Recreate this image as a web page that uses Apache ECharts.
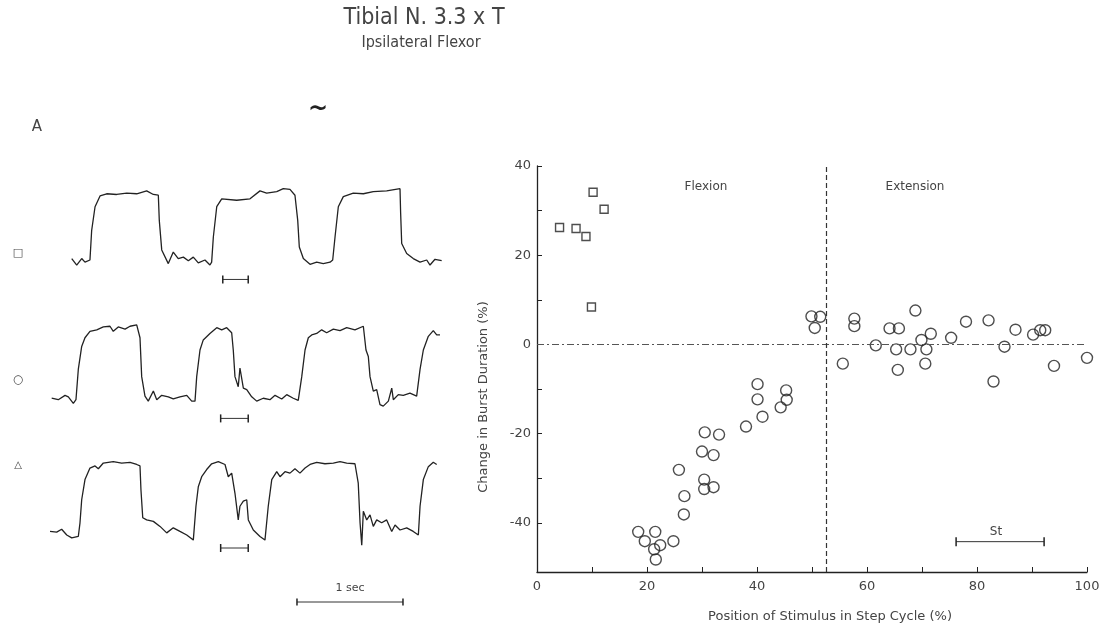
<!DOCTYPE html>
<html>
<head>
<meta charset="utf-8">
<script src="https://cdn.jsdelivr.net/npm/echarts@6/dist/echarts.min.js"></script>
<style>
  html, body { margin: 0; padding: 0; background: #fff; }
  #chart { width: 1108px; height: 634px; }
</style>
</head>
<body>
<div id="chart"></div>
<script>
// --- right panel: stimulus position (% step cycle) vs change in burst duration (%)
const squarePts = [
  [10.2, 34.1], [12.2, 30.3], [4.1, 26.2], [7.1, 26.0], [8.9, 24.2], [9.9, 8.4]
];
const circlePts = [
  [18.4, -42.0], [19.6, -44.1], [21.3, -45.9], [21.5, -42.0], [21.6, -48.2], [22.4, -45.0],
  [24.8, -44.1], [25.8, -28.1], [26.7, -38.1], [26.8, -34.0], [30.0, -24.0], [30.4, -30.3],
  [30.4, -32.4], [30.5, -19.7], [32.1, -24.8], [32.1, -32.0], [33.1, -20.2], [38.0, -18.4],
  [40.1, -8.9], [40.1, -12.3], [41.0, -16.2], [44.3, -14.1], [45.3, -10.3], [45.4, -12.4],
  [49.9, 6.3], [51.5, 6.2], [50.5, 3.7],
  [55.6, -4.3], [57.7, 5.8], [57.7, 4.1], [61.6, -0.2], [64.1, 3.6], [65.8, 3.6], [65.3, -1.1],
  [65.6, -5.7], [68.8, 7.6], [67.9, -1.1], [69.9, 1.0], [71.6, 2.4], [70.8, -1.1], [70.6, -4.3],
  [75.3, 1.5], [78.0, 5.1], [82.1, 5.4], [85.0, -0.5], [83.0, -8.3], [87.0, 3.3], [90.2, 2.2],
  [91.5, 3.2], [92.4, 3.2], [94.0, -4.8], [100.0, -3.0]
];
const phaseBorder = 52.6;           // flexion | extension
const stBar = [[76.2, -44.2], [92.2, -44.2]];
const xLabelValues = [0, 20, 40, 60, 80, 100];
const xTickValues = [0, 10, 20, 30, 40, 50, 60, 70, 80, 90, 100];
const yLabelValues = [-40, -20, 0, 20, 40];
const yTickValues = [-40, -30, -20, -10, 0, 10, 20, 30, 40];

// --- left panel: flexor EMG traces, [time (s), level], 0 = baseline, 1 = burst plateau
const traceSquare = [
  [0.205,0.05],[0.252,-0.04],[0.299,0.05],[0.330,0.00],[0.377,0.03],[0.393,0.44],[0.425,0.77],
  [0.472,0.92],[0.535,0.95],[0.629,0.94],[0.724,0.96],[0.818,0.95],[0.912,0.99],[0.975,0.94],
  [1.022,0.93],[1.031,0.58],[1.054,0.17],[1.116,-0.02],[1.163,0.14],[1.210,0.05],[1.258,0.07],
  [1.305,0.02],[1.352,0.07],[1.399,-0.01],[1.462,0.03],[1.509,-0.04],[1.525,0.00],[1.541,0.35],
  [1.573,0.77],[1.620,0.88],[1.761,0.86],[1.887,0.88],[1.981,0.99],[2.044,0.96],[2.139,0.98],
  [2.201,1.02],[2.264,1.01],[2.311,0.93],[2.327,0.91],[2.337,0.58],[2.352,0.21],[2.390,0.05],
  [2.453,-0.03],[2.516,0.00],[2.578,-0.02],[2.642,0.00],[2.667,0.03],[2.689,0.35],[2.720,0.77],
  [2.767,0.91],[2.861,0.96],[2.956,0.95],[3.050,0.98],[3.176,0.99],[3.302,1.02],[3.308,0.68],
  [3.318,0.26],[3.365,0.12],[3.427,0.05],[3.491,0.00],[3.554,0.03],[3.585,-0.04],[3.632,0.04],
  [3.695,0.02]
];
const traceCircle = [
  [0.016,0.02],[0.078,0.00],[0.142,0.06],[0.173,0.04],[0.220,-0.05],[0.245,0.00],[0.267,0.42],
  [0.299,0.74],[0.330,0.86],[0.377,0.95],[0.441,0.97],[0.503,1.01],[0.566,1.02],[0.597,0.95],
  [0.644,1.01],[0.708,0.98],[0.755,1.02],[0.818,1.04],[0.849,0.86],[0.865,0.32],[0.896,0.05],
  [0.927,-0.02],[0.975,0.12],[1.007,0.00],[1.054,0.06],[1.116,0.04],[1.163,0.01],[1.226,0.04],
  [1.290,0.06],[1.337,-0.02],[1.368,-0.02],[1.384,0.32],[1.415,0.69],[1.446,0.83],[1.509,0.92],
  [1.573,1.00],[1.620,0.97],[1.667,1.00],[1.714,0.93],[1.729,0.69],[1.745,0.32],[1.776,0.18],
  [1.792,0.44],[1.824,0.16],[1.856,0.14],[1.903,0.04],[1.950,-0.02],[2.012,0.02],[2.075,0.00],
  [2.123,0.06],[2.186,0.01],[2.233,0.07],[2.295,0.02],[2.342,-0.01],[2.375,0.32],[2.406,0.69],
  [2.437,0.86],[2.469,0.90],[2.516,0.92],[2.563,0.97],[2.610,0.93],[2.673,0.98],[2.736,0.96],
  [2.799,1.00],[2.877,0.97],[2.956,1.02],[2.972,1.00],[2.981,0.69],[3.003,0.60],[3.019,0.32],
  [3.050,0.12],[3.082,0.14],[3.113,-0.07],[3.144,-0.09],[3.192,-0.02],[3.224,0.16],[3.239,0.00],
  [3.286,0.07],[3.333,0.06],[3.396,0.09],[3.459,0.05],[3.491,0.42],[3.522,0.69],[3.569,0.88],
  [3.616,0.96],[3.648,0.90],[3.679,0.90]
];
const traceTriangle = [
  [0.000,0.06],[0.063,0.05],[0.110,0.09],[0.158,0.01],[0.205,-0.03],[0.267,-0.01],[0.283,0.18],
  [0.299,0.50],[0.330,0.78],[0.377,0.94],[0.425,0.97],[0.456,0.93],[0.503,1.01],[0.597,1.03],
  [0.676,1.01],[0.755,1.02],[0.818,0.99],[0.849,0.97],[0.858,0.64],[0.875,0.25],[0.912,0.22],
  [0.975,0.20],[1.038,0.13],[1.101,0.04],[1.163,0.11],[1.226,0.06],[1.290,0.01],[1.352,-0.06],
  [1.377,0.41],[1.399,0.68],[1.431,0.82],[1.478,0.92],[1.525,1.00],[1.588,1.03],[1.651,0.99],
  [1.682,0.82],[1.714,0.87],[1.745,0.59],[1.776,0.22],[1.792,0.41],[1.824,0.48],[1.856,0.50],
  [1.871,0.22],[1.918,0.08],[1.981,-0.01],[2.028,-0.06],[2.059,0.41],[2.092,0.78],[2.139,0.89],
  [2.170,0.82],[2.217,0.89],[2.264,0.87],[2.311,0.93],[2.358,0.87],[2.406,0.94],[2.453,0.99],
  [2.516,1.02],[2.594,1.00],[2.673,1.01],[2.736,1.03],[2.799,1.01],[2.877,1.00],[2.908,0.73],
  [2.925,0.18],[2.941,-0.13],[2.956,0.34],[2.988,0.22],[3.019,0.29],[3.050,0.13],[3.082,0.22],
  [3.129,0.18],[3.176,0.22],[3.224,0.06],[3.255,0.15],[3.302,0.08],[3.365,0.11],[3.427,0.06],
  [3.475,0.01],[3.491,0.41],[3.522,0.78],[3.569,0.96],[3.616,1.02],[3.648,0.99]
];
const traceOffsets = [4.72, 2.81, 0.92];
const stimMarks = [[1.63, 1.87], [1.61, 1.87], [1.61, 1.87]];
const stimLevels = [-0.24, -0.26, -0.17];
const secBar = [2.33, 3.33];

const ink = '#222';
const textInk = '#444';
const famNarrow = "'Liberation Sans Narrow', 'DejaVu Sans Condensed', 'Liberation Sans', sans-serif";
const fam = "'DejaVu Sans', 'Liberation Sans', sans-serif";

const chart = echarts.init(document.getElementById('chart'));

function txt(text, x, y, size, font, extra) {
  return Object.assign({
    type: 'text', x: x, y: y, silent: true,
    style: {
      text: text, fill: textInk, font: size + 'px ' + (font || fam),
      textAlign: 'center', align: 'center',
      textVerticalAlign: 'middle', verticalAlign: 'middle'
    }
  }, extra || {});
}

function barSeries(pts, gridAxis, tick) {
  return {
    type: 'line', xAxisIndex: gridAxis, yAxisIndex: gridAxis, data: pts,
    symbol: 'rect', symbolSize: [1.5, tick], silent: true,
    itemStyle: { color: ink }, lineStyle: { color: '#333', width: 1 }, z: 3
  };
}

const traces = [traceSquare, traceCircle, traceTriangle];
const series = [];
traces.forEach((tr, i) => {
  series.push({
    type: 'line', xAxisIndex: 0, yAxisIndex: 0,
    data: tr.map(p => [p[0], p[1] + traceOffsets[i]]),
    symbol: 'none', silent: true,
    lineStyle: { color: ink, width: 1.3 }
  });
  series.push(barSeries(stimMarks[i].map(t => [t, stimLevels[i] + traceOffsets[i]]), 0, 8));
});
series.push(barSeries(secBar.map(t => [t, 0]), 0, 7));

series.push({
  type: 'scatter', xAxisIndex: 1, yAxisIndex: 1, data: squarePts,
  symbol: 'rect', symbolSize: 8,
  itemStyle: { color: 'transparent', borderColor: ink, borderWidth: 1.4 }
});
series.push({
  type: 'scatter', xAxisIndex: 1, yAxisIndex: 1, data: circlePts,
  symbol: 'circle', symbolSize: 11,
  itemStyle: { color: 'transparent', borderColor: ink, borderWidth: 1.4 },
  markLine: {
    silent: true, symbol: 'none', label: { show: false },
    data: [
      { yAxis: 0, lineStyle: { type: [7, 3, 2, 3], color: '#555', width: 1 } },
      { xAxis: phaseBorder, lineStyle: { type: [5, 3], color: '#333', width: 1.2 } }
    ]
  }
});
series.push(barSeries(stBar, 1, 9));

const option = {
  backgroundColor: '#fff',
  animation: false,
  textStyle: { fontFamily: fam },
  grid: [
    { left: 50, top: 170, width: 424, height: 453.6 },
    { left: 537, top: 166, right: 21, bottom: 62 }
  ],
  xAxis: [
    { gridIndex: 0, type: 'value', min: 0, max: 4, show: false },
    {
      gridIndex: 1, type: 'value', min: 0, max: 100,
      name: 'Position of Stimulus in Step Cycle (%)',
      nameLocation: 'middle', nameGap: 38,
      nameTextStyle: { color: textInk, fontSize: 13, fontFamily: fam, padding: [0, 0, 0, 36] },
      axisLine: { onZero: false, lineStyle: { color: ink, width: 1.3 } },
      axisTick: { inside: true, length: 5, customValues: xTickValues, lineStyle: { color: ink } },
      axisLabel: { customValues: xLabelValues, color: textInk, fontSize: 13, margin: 8, fontFamily: fam },
      splitLine: { show: false }
    }
  ],
  yAxis: [
    { gridIndex: 0, type: 'value', min: -0.3, max: 6, show: false },
    {
      gridIndex: 1, type: 'value', min: -51, max: 40,
      axisLine: { show: true, onZero: false, lineStyle: { color: ink, width: 1.3 } },
      axisTick: { show: true, inside: true, length: 5, customValues: yTickValues, lineStyle: { color: ink } },
      axisLabel: { customValues: yLabelValues, color: textInk, fontSize: 13, margin: 6, fontFamily: fam },
      splitLine: { show: false }
    }
  ],
  graphic: [
    txt('Tibial N. 3.3 x T', 424, 18, 23, famNarrow),
    txt('Ipsilateral Flexor', 421, 43, 16, famNarrow),
    txt('A', 37, 127, 15),
    txt('~', 318, 110, 24, fam, { style: { text: '~', fill: ink, font: 'bold 24px ' + fam, align: 'center', verticalAlign: 'middle', textAlign: 'center', textVerticalAlign: 'middle' } }),
    txt('\u25A1', 18, 253, 11),
    txt('\u25CB', 18, 380, 12),
    txt('\u25B3', 18, 465, 10),
    txt('1 sec', 350, 588, 11),
    txt('Flexion', 706, 187, 12),
    txt('Extension', 915, 187, 12),
    txt('St', 996, 532, 12),
    txt('Change in Burst Duration (%)', 484, 397, 13, fam, { rotation: Math.PI / 2 })
  ],
  series: series
};

chart.setOption(option);
</script>
</body>
</html>
